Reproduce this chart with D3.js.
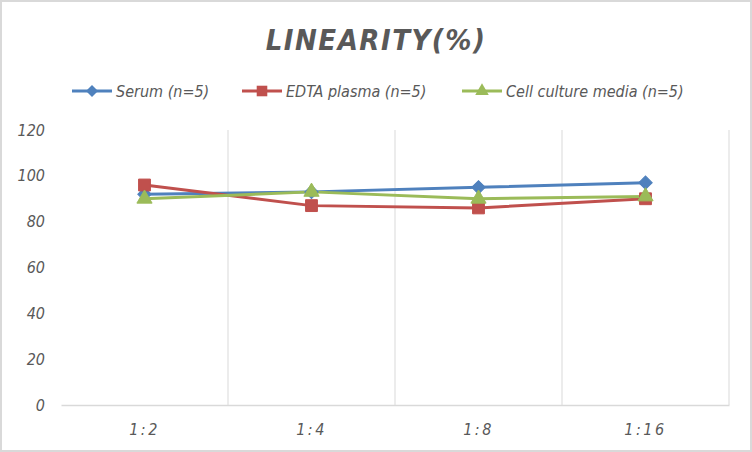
<!DOCTYPE html>
<html>
<head>
<meta charset="utf-8">
<script src="https://cdn.jsdelivr.net/npm/d3@7"></script>
<style>
  body { margin: 0; background: #fff; }
  text { font-family: "Liberation Sans Narrow", "Arial Narrow", "DejaVu Sans Condensed", sans-serif; font-style: italic; fill: #595959; }
</style>
</head>
<body>
<svg id="chart" width="752" height="452"></svg>
<script>
// chart values
const categories = ["1:2", "1:4", "1:8", "1:16"];
const seriesNames = ["Serum (n=5)", "EDTA plasma (n=5)", "Cell culture media (n=5)"];
const serum = [92, 93, 95, 97];
const edta = [96, 87, 86, 90];
const cellMedia = [90, 93, 90, 91];
const yTicks = [0, 20, 40, 60, 80, 100, 120];

const colrs = ["#4f81bd", "#c0504d", "#9bbb59"];
const symbols = [d3.symbolSquare, d3.symbolSquare, d3.symbolTriangle];
const symSize = [90, 140, 100];
const symRot = [45, 0, 0];

const svg = d3.select("#chart");
const W = 752, H = 452;
const pLeft = 61, pRight = 729, pTop = 130, pBottom = 405;

// border
svg.append("rect").attr("x", 1).attr("y", 1).attr("width", W - 2).attr("height", H - 2)
   .attr("fill", "#fff").attr("stroke", "#d9d9d9").attr("stroke-width", 2);

const x = d3.scaleBand().domain(categories).range([pLeft, pRight]);
const y = d3.scaleLinear().domain([0, 120]).range([pBottom, pTop]);

// vertical gridlines at category boundaries
const g = svg.append("g");
categories.slice(1).forEach(c => {
  g.append("line").attr("x1", x(c)).attr("x2", x(c)).attr("y1", pTop).attr("y2", pBottom)
   .attr("stroke", "#d9d9d9").attr("stroke-width", 1);
});
g.append("line").attr("x1", pRight).attr("x2", pRight).attr("y1", pTop).attr("y2", pBottom)
 .attr("stroke", "#d9d9d9").attr("stroke-width", 1);

// x axis
const xAxis = svg.append("g").attr("transform", `translate(0,${pBottom})`)
  .call(d3.axisBottom(x).tickSize(0).tickPadding(19));
xAxis.select(".domain").attr("stroke", "#d9d9d9").attr("stroke-width", 1.5);
xAxis.selectAll("text").attr("font-size", 16).attr("letter-spacing", "2.5px").attr("fill", "#595959");

// y axis labels only
const yAxis = svg.append("g").attr("transform", `translate(${pLeft},0)`)
  .call(d3.axisLeft(y).tickValues(yTicks).tickSize(0).tickPadding(16));
yAxis.select(".domain").remove();
yAxis.selectAll("text").attr("font-size", 16).attr("fill", "#595959");

// lines + markers
const allSeries = [serum, edta, cellMedia];
const cx = i => x(categories[i]) + x.bandwidth() / 2;
const line = d3.line().x((d, i) => cx(i)).y(d => y(d));
allSeries.forEach((vals, s) => {
  svg.append("path").datum(vals).attr("d", line).attr("fill", "none")
     .attr("stroke", colrs[s]).attr("stroke-width", 3).attr("stroke-linejoin", "round");
});
allSeries.forEach((vals, s) => {
  svg.selectAll(null).data(vals).enter().append("path")
     .attr("d", d3.symbol().type(symbols[s]).size(symSize[s]))
     .attr("transform", (d, i) => `translate(${cx(i)},${y(d)}) rotate(${symRot[s]})`)
     .attr("fill", colrs[s]).attr("stroke", colrs[s]).attr("stroke-width", 1);
});

// title
svg.append("text").attr("x", 376).attr("y", 50).attr("text-anchor", "middle")
   .attr("font-size", 29).attr("font-weight", "bold").attr("letter-spacing", "1.5px")
   .text("LINEARITY(%)");

// legend
const legX = [72, 242, 462];
seriesNames.forEach((n, s) => {
  const lg = svg.append("g").attr("transform", `translate(${legX[s]},91)`);
  lg.append("line").attr("x1", 0).attr("x2", 40).attr("stroke", colrs[s]).attr("stroke-width", 3);
  lg.append("path").attr("d", d3.symbol().type(symbols[s]).size(symSize[s] * 0.8))
    .attr("transform", `translate(20,0) rotate(${symRot[s]})`).attr("fill", colrs[s]);
  lg.append("text").attr("x", 44).attr("y", 6).attr("font-size", 16).text(n);
});
</script>
</body>
</html>
